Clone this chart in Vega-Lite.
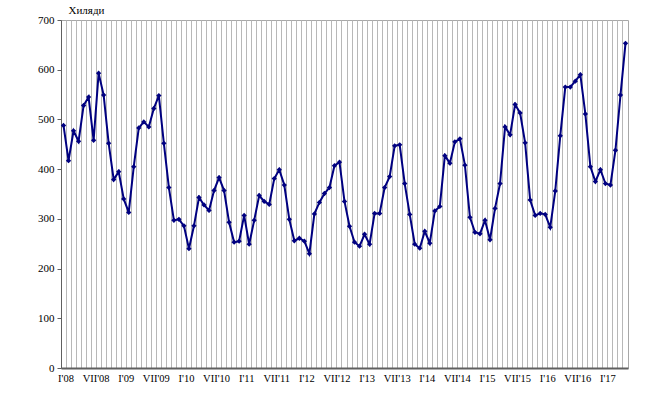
{
  "$schema": "https://vega.github.io/schema/vega-lite/v6.json",
  "autosize": {"type": "none"},
  "padding": {"left": 61, "top": 20, "right": 26, "bottom": 26},
  "width": 567,
  "height": 348,
  "background": "white",
  "config": {
    "view": {"stroke": "#a8a8a8", "strokeWidth": 1},
    "font": "Liberation Serif"
  },
  "data": {
    "values": [
      {"m": "I'08", "v": 488}, {"m": "II'08", "v": 417}, {"m": "III'08", "v": 477}, {"m": "IV'08", "v": 456}, {"m": "V'08", "v": 528}, {"m": "VI'08", "v": 545}, {"m": "VII'08", "v": 458}, {"m": "VIII'08", "v": 593}, {"m": "IX'08", "v": 549}, {"m": "X'08", "v": 452}, {"m": "XI'08", "v": 379}, {"m": "XII'08", "v": 395},
      {"m": "I'09", "v": 340}, {"m": "II'09", "v": 313}, {"m": "III'09", "v": 405}, {"m": "IV'09", "v": 483}, {"m": "V'09", "v": 495}, {"m": "VI'09", "v": 485}, {"m": "VII'09", "v": 522}, {"m": "VIII'09", "v": 548}, {"m": "IX'09", "v": 452}, {"m": "X'09", "v": 363}, {"m": "XI'09", "v": 297}, {"m": "XII'09", "v": 299},
      {"m": "I'10", "v": 286}, {"m": "II'10", "v": 240}, {"m": "III'10", "v": 286}, {"m": "IV'10", "v": 343}, {"m": "V'10", "v": 328}, {"m": "VI'10", "v": 317}, {"m": "VII'10", "v": 357}, {"m": "VIII'10", "v": 383}, {"m": "IX'10", "v": 357}, {"m": "X'10", "v": 293}, {"m": "XI'10", "v": 253}, {"m": "XII'10", "v": 255},
      {"m": "I'11", "v": 307}, {"m": "II'11", "v": 249}, {"m": "III'11", "v": 297}, {"m": "IV'11", "v": 347}, {"m": "V'11", "v": 335}, {"m": "VI'11", "v": 329}, {"m": "VII'11", "v": 381}, {"m": "VIII'11", "v": 399}, {"m": "IX'11", "v": 368}, {"m": "X'11", "v": 299}, {"m": "XI'11", "v": 256}, {"m": "XII'11", "v": 261},
      {"m": "I'12", "v": 255}, {"m": "II'12", "v": 230}, {"m": "III'12", "v": 310}, {"m": "IV'12", "v": 333}, {"m": "V'12", "v": 351}, {"m": "VI'12", "v": 363}, {"m": "VII'12", "v": 407}, {"m": "VIII'12", "v": 414}, {"m": "IX'12", "v": 335}, {"m": "X'12", "v": 285}, {"m": "XI'12", "v": 253}, {"m": "XII'12", "v": 245},
      {"m": "I'13", "v": 269}, {"m": "II'13", "v": 249}, {"m": "III'13", "v": 311}, {"m": "IV'13", "v": 311}, {"m": "V'13", "v": 363}, {"m": "VI'13", "v": 385}, {"m": "VII'13", "v": 447}, {"m": "VIII'13", "v": 449}, {"m": "IX'13", "v": 371}, {"m": "X'13", "v": 309}, {"m": "XI'13", "v": 249}, {"m": "XII'13", "v": 241},
      {"m": "I'14", "v": 275}, {"m": "II'14", "v": 251}, {"m": "III'14", "v": 316}, {"m": "IV'14", "v": 325}, {"m": "V'14", "v": 427}, {"m": "VI'14", "v": 412}, {"m": "VII'14", "v": 455}, {"m": "VIII'14", "v": 461}, {"m": "IX'14", "v": 408}, {"m": "X'14", "v": 303}, {"m": "XI'14", "v": 273}, {"m": "XII'14", "v": 270},
      {"m": "I'15", "v": 297}, {"m": "II'15", "v": 258}, {"m": "III'15", "v": 321}, {"m": "IV'15", "v": 371}, {"m": "V'15", "v": 485}, {"m": "VI'15", "v": 469}, {"m": "VII'15", "v": 530}, {"m": "VIII'15", "v": 513}, {"m": "IX'15", "v": 453}, {"m": "X'15", "v": 338}, {"m": "XI'15", "v": 307}, {"m": "XII'15", "v": 311},
      {"m": "I'16", "v": 309}, {"m": "II'16", "v": 283}, {"m": "III'16", "v": 356}, {"m": "IV'16", "v": 467}, {"m": "V'16", "v": 565}, {"m": "VI'16", "v": 565}, {"m": "VII'16", "v": 577}, {"m": "VIII'16", "v": 590}, {"m": "IX'16", "v": 511}, {"m": "X'16", "v": 405}, {"m": "XI'16", "v": 375}, {"m": "XII'16", "v": 399},
      {"m": "I'17", "v": 371}, {"m": "II'17", "v": 368}, {"m": "III'17", "v": 438}, {"m": "IV'17", "v": 549}, {"m": "V'17", "v": 653}
    ]
  },
  "encoding": {
    "x": {
      "field": "m",
      "type": "ordinal",
      "sort": null,
      "scale": {"type": "band", "paddingInner": 0, "paddingOuter": 0},
      "axis": {
        "title": null,
        "bandPosition": 0,
        "grid": true,
        "gridColor": "#b8b8b8",
        "gridWidth": 1,
        "ticks": false,
        "labelAngle": 0,
        "labelOverlap": false,
        "labelBound": false,
        "labelFlush": false,
        "labelFont": "Liberation Serif",
        "labelFontSize": 10.5,
        "labelColor": "#000",
        "labelPadding": 5,
        "labelOffset": 2.5,
        "labelExpr": "(indexof(datum.value, \"I'\") == 0 || indexof(datum.value, \"VII'\") == 0) ? datum.value : ''",
        "domainColor": "#606060",
        "domainWidth": 2
      }
    },
    "y": {
      "field": "v",
      "type": "quantitative",
      "scale": {"domain": [0, 700], "nice": false},
      "axis": {
        "values": [0, 100, 200, 300, 400, 500, 600, 700],
        "grid": false,
        "title": "Хиляди",
        "titleAngle": 0,
        "titleAlign": "left",
        "titleBaseline": "middle",
        "titleX": 7,
        "titleY": -10,
        "titleFont": "Liberation Serif",
        "titleFontSize": 11,
        "titleFontWeight": "normal",
        "titleColor": "#000",
        "labelFont": "Liberation Serif",
        "labelFontSize": 11,
        "labelColor": "#000",
        "labelPadding": 3,
        "tickSize": 4,
        "tickColor": "#606060",
        "domainColor": "#606060",
        "domainWidth": 1
      }
    }
  },
  "layer": [
    {"mark": {"type": "line", "color": "#000080", "strokeWidth": 2}},
    {"mark": {"type": "point", "shape": "diamond", "filled": true, "color": "#000080", "size": 28, "opacity": 1}}
  ]
}
